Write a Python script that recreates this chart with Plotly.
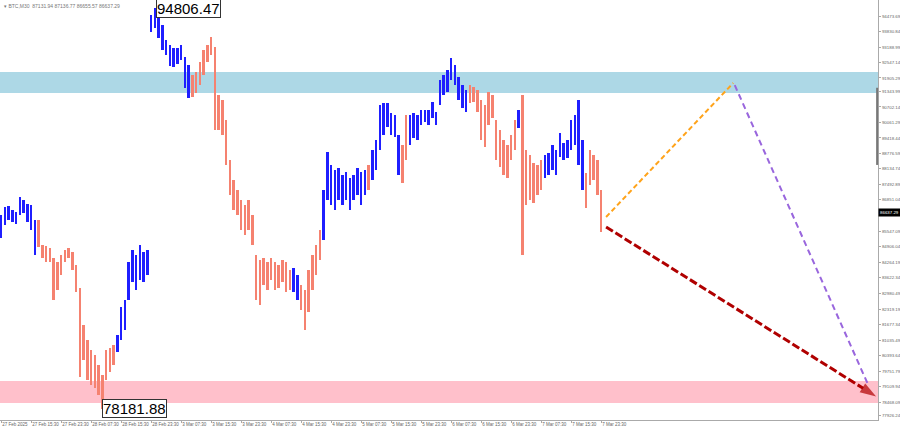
import plotly.graph_objects as go

# ---- data (hourly bars) ----
high = [86224, 86556, 86597, 86431, 86349, 86970, 86846, 86680, 86639, 86017,
        86017, 84980, 84939, 84856, 84441, 84275, 84566, 84773, 84856, 84690,
        84151, 83197, 81663, 81042, 80627, 80420, 80005, 79590, 80627, 80710,
        80834, 81249, 82410, 82700, 84275, 84773, 84566, 84980, 84690, 84773,
        94516, 94806.47, 94723, 94101, 93480, 93272, 93148, 93148, 93272, 92775,
        92443, 92029, 92153, 92568, 93065, 93272, 93604, 93189, 91199, 90992,
        90163, 88504, 87675, 87261, 86846, 86639, 86846, 86224, 84566, 84358,
        84441, 84275, 84441, 84275, 84151, 84358, 84275, 83944, 84027, 83736,
        83322, 83115, 83944, 84566, 84980, 85602, 87261, 88836, 88297, 88090,
        88173, 87883, 88007, 87758, 87883, 88173, 88007, 88090, 88297, 88919,
        89334, 90785, 90868, 90868, 90453, 90370, 89541, 89126, 90370, 90370,
        90453, 90370, 90577, 90577, 90577, 90909, 90495, 91821, 92029, 92236,
        92733, 92443, 91946, 91614, 91407, 91614, 91531, 91407, 90992, 90785,
        91324, 91199, 90163, 89748, 89334, 89126, 89541, 90163, 90577, 91199,
        88919, 88712, 88380, 88297, 88504, 88712, 88795, 89126, 88919, 89624,
        89209, 89334, 90163, 90370, 90992, 89334, 87965, 88919, 88712, 88504,
        87261]
low = [85270, 85810, 86017, 85934, 85851, 86224, 86307, 85934, 85602, 84566,
       84897, 84441, 84275, 84275, 82700, 83115, 83736, 84275, 84441, 83944,
       83032, 79508, 80212, 79383, 79176, 79051, 78761, 78181.88, 79383, 79715,
       80005, 80544, 81042, 81456, 82700, 83446, 83115, 83529, 83446, 83736,
       93811, 93977, 93562, 93065, 92858, 92402, 92360, 92485, 92650, 91490,
       91075, 91116, 91282, 91614, 92029, 92568, 92858, 89748, 89748, 89541,
       88297, 87053, 86431, 86224, 85602, 85395, 85602, 84980, 82700, 82493,
       83322, 83115, 83529, 83115, 83197, 83446, 83032, 83115, 83032, 82700,
       82285, 81456, 82203, 83115, 83736, 84358, 85188, 86846, 86639, 86431,
       86846, 86639, 86846, 86431, 86846, 87053, 86639, 87053, 87261, 87675,
       88090, 88919, 89541, 89873, 89541, 89458, 87883, 87551, 88504, 89126,
       89417, 89334, 89956, 90080, 89956, 90246, 89956, 90785, 91199, 91324,
       91821, 91614, 90992, 90660, 90495, 90868, 90909, 90495, 89334, 89043,
       89956, 90246, 88504, 88214, 87883, 87758, 88504, 88919, 89831, 84566,
       86639, 86846, 86722, 87053, 87261, 87758, 87883, 88090, 87883, 88629,
       88504, 88587, 88919, 89126, 88297, 87261, 86514, 87468, 87675, 87053,
       85519]
# wave direction per bar: 1 = rising wave (blue), 0 = falling wave (salmon)
wave = ([1] * 10 + [0] * 21 + [1] * 20 + [0] * 27 + [1] * 2 + [0] * 6 + [1] * 12 + [0]
        + [1] * 8 + [0] * 2 + [1] * 16 + [0] * 13 + [1] + [0] * 6 + [1] * 11 + [0] * 5)

time_labels = ["27 Feb 2025", "27 Feb 15:30", "27 Feb 23:30", "28 Feb 07:30", "28 Feb 15:30",
               "28 Feb 23:30", "3 Mar 07:30", "3 Mar 15:30", "3 Mar 23:30", "4 Mar 07:30",
               "4 Mar 15:30", "4 Mar 23:30", "5 Mar 07:30", "5 Mar 15:30", "5 Mar 23:30",
               "6 Mar 07:30", "6 Mar 15:30", "6 Mar 23:30", "7 Mar 07:30", "7 Mar 15:30",
               "7 Mar 23:30"]
price_labels = ["94473.69", "93830.84", "93188.99", "92547.14", "91905.29", "91343.99",
                "90702.14", "90061.29", "89418.44", "88776.59", "88134.74", "87492.89",
                "86851.04", "85547.09", "84906.04", "84264.19", "83622.34", "82980.49",
                "82319.19", "81677.34", "81035.49", "80393.64", "79751.79", "79109.94",
                "78468.09", "77926.24"]

resistance_zone = [91282, 92153]
support_zone = [78430, 79342]
high_label = 94806.47
low_label = 78181.88
last_price = "86637.29"
last_price_level = 86330
header = "\u25be BTC,M30  87131.94 87136.77 86655.57 86637.29"

orange_x, orange_y = [161.3, 195.2], [86141, 91697]
purple_x, purple_y = [195.6, 231.2], [91610, 79176]
red_x, red_y = [161.3, 233.3], [85727, 78700]
scroll_mark = [88300, 91500]

# ---- figure ----
n = len(high)
idx = list(range(n))
colors = ["#1f1fff" if w else "#f58270" for w in wave]
fig = go.Figure()
fig.add_trace(go.Bar(x=idx, base=low, y=[h - l for h, l in zip(high, low)],
                     marker=dict(color=colors, line=dict(width=0)), width=0.65,
                     hoverinfo="skip", showlegend=False))

fig.add_trace(go.Scatter(x=orange_x, y=orange_y, mode="lines", hoverinfo="skip",
                         line=dict(color="#ffa31a", width=2, dash="5px,3px"), showlegend=False))
fig.add_trace(go.Scatter(x=purple_x, y=purple_y, mode="lines", hoverinfo="skip",
                         line=dict(color="#9966dd", width=2, dash="6px,4px"), showlegend=False))
fig.add_trace(go.Scatter(x=red_x, y=red_y, mode="lines+markers", hoverinfo="skip",
                         line=dict(color="#b00000", width=3, dash="8px,3px"),
                         marker=dict(symbol="arrow", size=[0, 17], angleref="previous",
                                     color="#b00000", line=dict(width=0)), showlegend=False))

fig.add_shape(type="rect", xref="paper", x0=0, x1=1, y0=resistance_zone[0], y1=resistance_zone[1],
              fillcolor="#add8e6", line_width=0, layer="below")
fig.add_shape(type="rect", xref="paper", x0=0, x1=1, y0=support_zone[0], y1=support_zone[1],
              fillcolor="#ffc0cb", line_width=0, layer="below")
fig.add_shape(type="line", xref="paper", x0=0.999, x1=0.999, y0=scroll_mark[0], y1=scroll_mark[1],
              line=dict(color="#777", width=2))

fig.add_annotation(x=high.index(high_label), y=high_label, text=f"{high_label:.2f}",
                   xanchor="left", yanchor="middle", xshift=1, showarrow=False,
                   font=dict(family="Liberation Sans", size=15, color="black"),
                   bgcolor="white", bordercolor="#333", borderwidth=1, borderpad=0)
fig.add_annotation(x=low.index(low_label), y=low_label, text=f"{low_label:.2f}",
                   xanchor="left", yanchor="middle", xshift=0, showarrow=False,
                   font=dict(family="Liberation Sans", size=15, color="black"),
                   bgcolor="white", bordercolor="#333", borderwidth=1, borderpad=0)
fig.add_annotation(xref="paper", yref="paper", x=0.002, y=0.997, text=header,
                   xanchor="left", yanchor="top", showarrow=False,
                   font=dict(family="Liberation Sans", size=5, color="#777"))
fig.add_annotation(xref="paper", x=1, y=last_price_level, text=last_price, xanchor="left",
                   yanchor="middle", showarrow=False, bgcolor="black", borderpad=1,
                   font=dict(family="Liberation Sans", size=4.4, color="white"))

fig.update_layout(
    width=900, height=431, margin=dict(l=0, r=22, t=0, b=11, autoexpand=False),
    paper_bgcolor="white", plot_bgcolor="white", bargap=0,
    font=dict(family="Liberation Sans"),
    xaxis=dict(range=[-0.3, 233.8], tickvals=[8 * i for i in range(len(time_labels))],
               ticktext=time_labels, showgrid=False, zeroline=False, showline=True,
               linecolor="#aaa", ticks="outside", ticklen=2, tickcolor="#aaa",
               tickangle=0, automargin=False,
               ticklabelposition="outside right", tickfont=dict(size=4.5, color="#666")),
    yaxis=dict(range=[77725, 95138], side="right", tickvals=[float(p) for p in price_labels],
               ticktext=price_labels, showgrid=False, zeroline=False, showline=True,
               linecolor="#aaa", ticks="outside", ticklen=2, tickcolor="#aaa", automargin=False,
               tickfont=dict(size=4.4, color="#666")),
)
fig.write_html("out.html", config={"displayModeBar": False, "staticPlot": True},
               post_script="document.body.style.margin='0';document.body.style.padding='0';")
